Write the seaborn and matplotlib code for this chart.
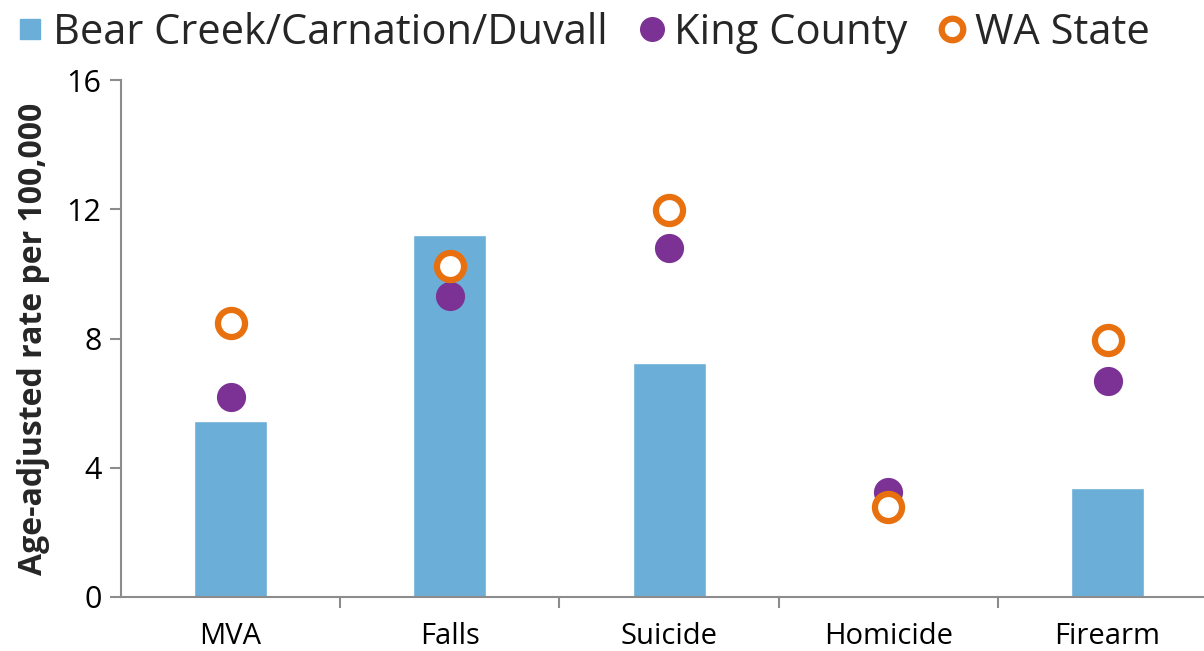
import numpy as np
import pandas as pd
import matplotlib
matplotlib.use("Agg")
import matplotlib.pyplot as plt
from matplotlib.lines import Line2D
import seaborn as sns

categories = ["MVA", "Falls", "Suicide", "Homicide", "Firearm"]
bear_creek = [5.45, 11.2, 7.25, np.nan, 3.36]
king_county = [6.2, 9.3, 10.8, 3.25, 6.7]
wa_state = [8.48, 10.25, 11.98, 2.8, 7.96]
y_ticks = [0, 4, 8, 12, 16]

BAR = "#6BAED8"
PURPLE = "#7B3294"
ORANGE = "#E8700E"
SPINE = "#8C8C8C"

sns.set_theme(style="white")
plt.rcParams["font.family"] = ["Open Sans", "DejaVu Sans"]

df = pd.DataFrame({"cat": categories, "bear": bear_creek,
                   "king": king_county, "wa": wa_state})

fig = plt.figure(figsize=(12.04, 6.51), dpi=100)
ax = fig.add_axes([121 / 1204, 54 / 651, (1204 - 121) / 1204, 517 / 651])

sns.barplot(data=df, x="cat", y="bear", order=categories, color=BAR,
            width=0.333, saturation=1, ax=ax, zorder=1)
sns.stripplot(data=df, x="cat", y="king", order=categories, jitter=False,
              color=PURPLE, s=21, linewidth=0, ax=ax, zorder=3)
sns.stripplot(data=df, x="cat", y="wa", order=categories, jitter=False,
              color="white", edgecolor=ORANGE, linewidth=4.5, s=19.5,
              ax=ax, zorder=4)

ax.set_xlim(-0.5, 4.44)
ax.set_ylim(0, 16)
ax.set_yticks(y_ticks)
ax.set_yticklabels([str(t) for t in y_ticks], fontsize=22)
ax.set_xticks(range(len(categories)))
ax.set_xticklabels(categories, fontsize=21)
ax.set_xticks([0.5, 1.5, 2.5, 3.5], minor=True)
ax.tick_params(axis="x", which="major", length=0, pad=18, colors="black")
ax.tick_params(axis="x", which="minor", length=8, width=1.5, color=SPINE,
               direction="out", bottom=True)
ax.tick_params(axis="y", which="major", length=8, width=1.5, color=SPINE,
               direction="out", left=True, pad=6, labelcolor="black")
ax.set_xlabel("")
ax.set_ylabel("Age-adjusted rate per 100,000", fontsize=23, fontweight="bold",
              labelpad=12)

for s in ["top", "right"]:
    ax.spines[s].set_visible(False)
for s in ["left", "bottom"]:
    ax.spines[s].set_color(SPINE)
    ax.spines[s].set_linewidth(1.5)
ax.grid(False)

handles = [
    Line2D([0], [0], marker="s", linestyle="none", markersize=15,
           markerfacecolor=BAR, markeredgecolor=BAR),
    Line2D([0], [0], marker="o", linestyle="none", markersize=17,
           markerfacecolor=PURPLE, markeredgecolor=PURPLE),
    Line2D([0], [0], marker="o", linestyle="none", markersize=15.5,
           markerfacecolor="white", markeredgecolor=ORANGE,
           markeredgewidth=4.5),
]
labels = ["Bear Creek/Carnation/Duvall", "King County", "WA State"]
fig.legend(handles, labels, loc="upper left", bbox_to_anchor=(-0.006, 1.02),
           ncol=3, frameon=False, fontsize=30, handlelength=0.6,
           handletextpad=0.25, columnspacing=0.75, borderaxespad=0.2,
           borderpad=0.4)

fig.savefig("out.png", dpi=100)
